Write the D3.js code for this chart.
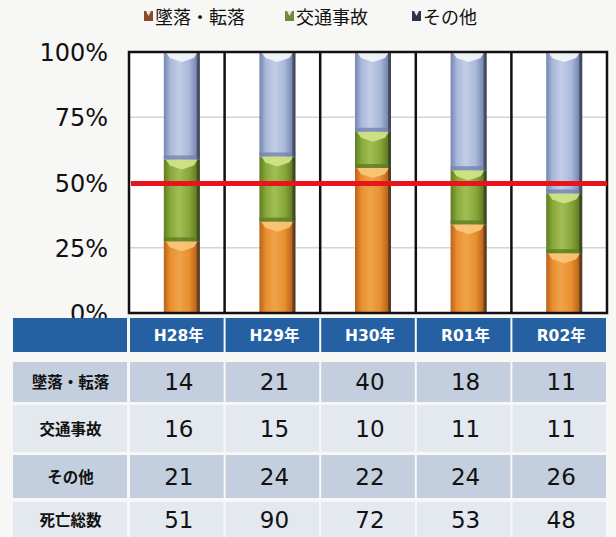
<!DOCTYPE html>
<html>
<head>
<meta charset="utf-8">
<script src="https://cdn.jsdelivr.net/npm/d3@7"></script>
<style>
  body { margin: 0; background: #f7f7f5; }
  svg { display: block; }
</style>
</head>
<body>
<div id="chart"></div>
<script>
// data
let years = ['H28年', 'H29年', 'H30年', 'R01年', 'R02年'];
let seriesNames = ['墜落・転落', '交通事故', 'その他'];
let fall = [14, 21, 40, 18, 11];
let traffic = [16, 15, 10, 11, 11];
let other = [21, 24, 22, 24, 26];
let totals = [51, 90, 72, 53, 48];
let rowLabels = ['墜落・転落', '交通事故', 'その他', '死亡総数'];
let yTicks = [0, 0.25, 0.5, 0.75, 1];
let refLine = 0.5;

function getConfig() {
  let width = 616, height = 537;
  let margin = { top: 52, left: 129, right: 9, bottom: 224 };
  let bodyWidth = width - margin.left - margin.right;
  let bodyHeight = height - margin.top - margin.bottom;
  let svg = d3.select('#chart').append('svg')
    .attr('width', width).attr('height', height);
  return { width, height, margin, bodyWidth, bodyHeight, svg };
}

let config = getConfig();
let { svg, margin, bodyWidth, bodyHeight } = config;

let rows = years.map((y, i) => ({ year: y, fall: fall[i], traffic: traffic[i], other: other[i] }));
let stacked = d3.stack().keys(['fall', 'traffic', 'other']).offset(d3.stackOffsetExpand)(rows);

let x = d3.scaleBand().domain(years).range([margin.left, margin.left + bodyWidth]).padding(0);
let y = d3.scaleLinear().domain([0, 1]).range([margin.top + bodyHeight, margin.top]);

let colors = {
  fall:    { base: '#e98f2f', dark: '#b8621a', light: '#fbc77a', edge: '#8a4a12' },
  traffic: { base: '#88a83a', dark: '#5f7d22', light: '#d2e58a', edge: '#4c6418' },
  other:   { base: '#a9b8da', dark: '#7485b0', light: '#f4f6fb', edge: '#56648a' }
};

// gradients for the cylinder look
let defs = svg.append('defs');
Object.keys(colors).forEach(k => {
  let c = colors[k];
  let g = defs.append('linearGradient').attr('id', 'g_' + k)
    .attr('x1', '0%').attr('x2', '100%').attr('y1', '0%').attr('y2', '0%');
  g.append('stop').attr('offset', '0%').attr('stop-color', c.dark);
  g.append('stop').attr('offset', '18%').attr('stop-color', c.base);
  g.append('stop').attr('offset', '42%').attr('stop-color', d3.interpolateRgb(c.base, c.light)(0.35));
  g.append('stop').attr('offset', '70%').attr('stop-color', c.base);
  g.append('stop').attr('offset', '92%').attr('stop-color', c.dark);
  g.append('stop').attr('offset', '100%').attr('stop-color', c.edge);
});

// plot background
svg.append('rect')
  .attr('x', margin.left).attr('y', margin.top)
  .attr('width', bodyWidth).attr('height', bodyHeight)
  .attr('fill', '#ffffff');

// gridlines
svg.append('g').selectAll('line')
  .data(yTicks.filter(t => t > 0 && t < 1))
  .join('line')
  .attr('x1', margin.left).attr('x2', margin.left + bodyWidth)
  .attr('y1', d => y(d)).attr('y2', d => y(d))
  .attr('stroke', '#d4d4d4').attr('stroke-width', 1.5);

// bars
let barW = 36;
let barShift = 5;
let layers = svg.append('g').selectAll('g')
  .data(stacked)
  .join('g');

layers.each(function(layer) {
  let key = layer.key;
  let c = colors[key];
  let g = d3.select(this);
  layer.forEach(d => {
    let x0 = x(d.data.year) + (x.bandwidth() - barW) / 2 + barShift;
    let yTop = y(d[1]), yBot = y(d[0]);
    let h = yBot - yTop;
    g.append('rect')
      .attr('x', x0).attr('y', yTop)
      .attr('width', barW).attr('height', h)
      .attr('fill', 'url(#g_' + key + ')');
    // darker rim at the bottom of the segment
    if (d[0] > 0) {
      g.append('rect')
        .attr('x', x0).attr('y', yBot - 4)
        .attr('width', barW).attr('height', 4)
        .attr('fill', c.dark).attr('opacity', 0.8);
    }
    // light cap at the top of the segment
    let capH = Math.min(10, h * 0.5);
    g.append('path')
      .attr('d', `M${x0 + 2},${yTop} L${x0 + barW - 2},${yTop} L${x0 + barW - 6},${yTop + capH * 0.6} L${x0 + barW / 2},${yTop + capH} L${x0 + 6},${yTop + capH * 0.6} Z`)
      .attr('fill', c.light).attr('opacity', 0.9);
    // dark right edge
    g.append('rect')
      .attr('x', x0 + barW - 3).attr('y', yTop)
      .attr('width', 3).attr('height', h)
      .attr('fill', '#2a2a2a').attr('opacity', 0.55);
  });
});

// category dividers and frame
svg.append('g').selectAll('line')
  .data(years.slice(1))
  .join('line')
  .attr('x1', d => x(d)).attr('x2', d => x(d))
  .attr('y1', margin.top).attr('y2', margin.top + bodyHeight)
  .attr('stroke', '#111').attr('stroke-width', 2.5);

svg.append('rect')
  .attr('x', margin.left).attr('y', margin.top)
  .attr('width', bodyWidth).attr('height', bodyHeight)
  .attr('fill', 'none').attr('stroke', '#111').attr('stroke-width', 2.5);

// 50% reference line
svg.append('line')
  .attr('x1', margin.left + 2).attr('x2', margin.left + bodyWidth)
  .attr('y1', y(refLine) + 1).attr('y2', y(refLine) + 1)
  .attr('stroke', '#e8141c').attr('stroke-width', 5);

// y axis labels
svg.append('g').selectAll('text')
  .data(yTicks)
  .join('text')
  .attr('x', 108)
  .attr('y', d => y(d) + 9)
  .attr('text-anchor', 'end')
  .attr('font-family', 'DejaVu Sans')
  .attr('font-size', 24)
  .attr('fill', '#111')
  .text(d => d3.format('.0%')(d));

// legend
let legendX = [145, 286, 413];
let markerCol = ['#8a4a2a', '#6f8a3a', '#2c3348'];
let legend = svg.append('g').selectAll('g')
  .data(seriesNames)
  .join('g')
  .attr('transform', (d, i) => `translate(${legendX[i]},17)`);
legend.append('rect')
  .attr('x', -1).attr('y', -6).attr('width', 9).attr('height', 10)
  .attr('fill', (d, i) => markerCol[i]);
legend.append('path')
  .attr('d', 'M1,-6 L3.5,-1 L6,-6 Z')
  .attr('fill', '#e8e8e8');
legend.append('text')
  .attr('x', 10).attr('y', 7)
  .attr('font-family', 'Noto Sans CJK JP')
  .attr('font-size', 18)
  .attr('fill', '#111')
  .text(d => d);

// table below the chart
let firstCol = { x0: 13, x1: 128 };
let header = { y0: 318, y1: 352 };
let bodyRows = [
  { y0: 362, y1: 402, fill: '#c3cede', values: fall },
  { y0: 405, y1: 452, fill: '#e4e8ef', values: traffic },
  { y0: 455, y1: 498, fill: '#c3cede', values: other },
  { y0: 502, y1: 545, fill: '#e4e8ef', values: totals }
];
let gap = 2;
let table = svg.append('g');

// header row
table.append('rect')
  .attr('x', firstCol.x0).attr('y', header.y0)
  .attr('width', firstCol.x1 - firstCol.x0 - gap / 2).attr('height', header.y1 - header.y0)
  .attr('fill', '#2561a2');
table.selectAll('.hcell')
  .data(years)
  .join('rect')
  .attr('class', 'hcell')
  .attr('x', d => x(d) + gap / 2).attr('y', header.y0)
  .attr('width', x.bandwidth() - gap).attr('height', header.y1 - header.y0)
  .attr('fill', '#2561a2');
table.selectAll('.htext')
  .data(years)
  .join('text')
  .attr('class', 'htext')
  .attr('x', d => x(d) + x.bandwidth() / 2 + 2)
  .attr('y', (header.y0 + header.y1) / 2 + 6)
  .attr('text-anchor', 'middle')
  .attr('font-family', 'DejaVu Sans, Noto Sans CJK JP')
  .attr('font-weight', 'bold')
  .attr('font-size', 15.5)
  .attr('fill', '#ffffff')
  .text(d => d);

// body rows
bodyRows.forEach((r, ri) => {
  table.append('rect')
    .attr('x', firstCol.x0).attr('y', r.y0)
    .attr('width', firstCol.x1 - firstCol.x0 - gap / 2).attr('height', r.y1 - r.y0)
    .attr('fill', r.fill);
  table.append('text')
    .attr('x', (firstCol.x0 + firstCol.x1) / 2)
    .attr('y', (r.y0 + Math.min(r.y1, 537)) / 2 + 6)
    .attr('text-anchor', 'middle')
    .attr('font-family', 'Noto Sans CJK JP')
    .attr('font-weight', 'bold')
    .attr('font-size', 15.5)
    .attr('fill', '#111')
    .text(rowLabels[ri]);
  table.append('g').selectAll('rect')
    .data(years)
    .join('rect')
    .attr('x', d => x(d) + gap / 2).attr('y', r.y0)
    .attr('width', x.bandwidth() - gap).attr('height', r.y1 - r.y0)
    .attr('fill', r.fill);
  table.append('g').selectAll('text')
    .data(r.values)
    .join('text')
    .attr('x', (d, i) => x(years[i]) + x.bandwidth() / 2 + 2)
    .attr('y', (r.y0 + Math.min(r.y1, 537)) / 2 + 8)
    .attr('text-anchor', 'middle')
    .attr('font-family', 'DejaVu Sans')
    .attr('font-size', 23)
    .attr('fill', '#111')
    .text(d => d);
});
</script>
</body>
</html>
